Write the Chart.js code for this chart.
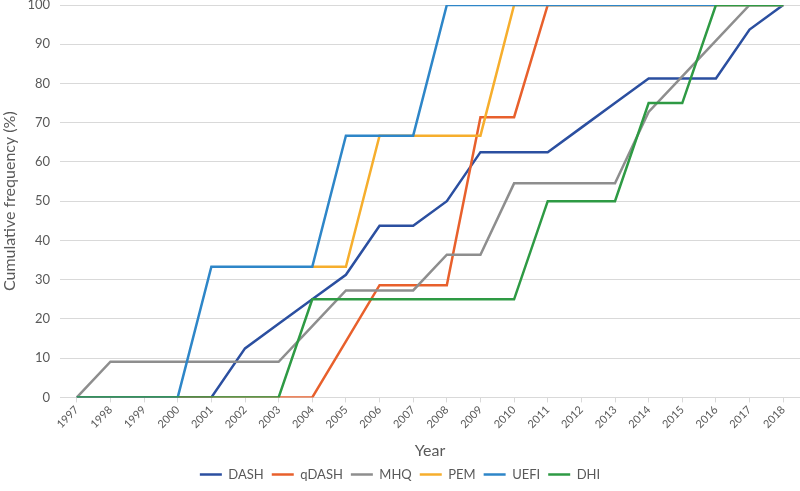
<!DOCTYPE html>
<html>
<head>
<meta charset="utf-8">
<script src="https://cdn.jsdelivr.net/npm/chart.js@4"></script>
<style>
  html, body { margin: 0; padding: 0; background: #fff; }
  #wrap { width: 800px; height: 491px; }
</style>
</head>
<body>
<div id="wrap"><canvas id="chart"></canvas></div>
<script>
const years = ['1997','1998','1999','2000','2001','2002','2003','2004','2005','2006','2007',
  '2008','2009','2010','2011','2012','2013','2014','2015','2016','2017','2018'];

const dash  = [0, 0, 0, 0, 0, 12.5, 18.75, 25, 31.25, 43.75, 43.75, 50, 62.5, 62.5, 62.5, 68.75, 75, 81.25, 81.25, 81.25, 93.75, 100];
const qdash = [0, 0, 0, 0, 0, 0, 0, 0, 14.3, 28.6, 28.6, 28.6, 71.4, 71.4, 100, 100, 100, 100, 100, 100, 100, 100];
const mhq   = [0, 9.09, 9.09, 9.09, 9.09, 9.09, 9.09, 18.18, 27.27, 27.27, 27.27, 36.36, 36.36, 54.55, 54.55, 54.55, 54.55, 72.73, 81.82, 90.91, 100, 100];
const pem   = [null, null, null, null, null, null, null, 33.3, 33.3, 66.7, 66.7, 66.7, 66.7, 100, 100, 100, 100, 100, 100, 100, 100, 100];
const uefi  = [0, 0, 0, 0, 33.3, 33.3, 33.3, 33.3, 66.7, 66.7, 66.7, 100, 100, 100, 100, 100, 100, 100, 100, 100, 100, 100];
const dhi   = [0, 0, 0, 0, 0, 0, 0, 25, 25, 25, 25, 25, 25, 25, 50, 50, 50, 75, 75, 100, 100, 100];

const yTicks = [0, 10, 20, 30, 40, 50, 60, 70, 80, 90, 100];

const textColor = '#595959';
const fontFamily = 'Lato, "Open Sans", sans-serif';

// later series are drawn on top, like the original
function line(label, data, color, order) {
  return {
    label: label,
    data: data,
    order: order,
    borderColor: color,
    backgroundColor: color,
    borderWidth: 2.5,
    pointRadius: 0,
    tension: 0,
    spanGaps: false
  };
}

new Chart(document.getElementById('chart'), {
  type: 'line',
  data: {
    labels: years,
    datasets: [
      line('DASH', dash, '#2B4FA0', 6),
      line('qDASH', qdash, '#E8602C', 5),
      line('MHQ', mhq, '#8E8E8E', 4),
      line('PEM', pem, '#F6AE2D', 3),
      line('UEFI', uefi, '#2E86C8', 2),
      line('DHI', dhi, '#2E9A44', 1)
    ]
  },
  options: {
    responsive: true,
    maintainAspectRatio: false,
    animation: false,
    layout: { padding: { left: 0, right: 0, top: 5, bottom: 0 } },
    plugins: {
      tooltip: { enabled: false },
      legend: {
        position: 'bottom',
        labels: {
          usePointStyle: true,
          pointStyle: 'line',
          pointStyleWidth: 22,
          padding: 8,
          color: textColor,
          font: { family: fontFamily, size: 13 },
          sort: (a, b) => a.datasetIndex - b.datasetIndex
        }
      }
    },
    scales: {
      x: {
        offset: true,
        grid: { display: true, drawOnChartArea: false, offset: false, tickLength: 5, color: '#d9d9d9' },
        border: { color: '#d9d9d9' },
        ticks: {
          minRotation: 45,
          maxRotation: 45,
          autoSkip: false,
          padding: 1,
          color: textColor,
          font: { family: fontFamily, size: 11 }
        },
        title: {
          display: true,
          text: 'Year',
          color: textColor,
          font: { family: fontFamily, size: 16 },
          padding: { top: 9, bottom: 0 }
        }
      },
      y: {
        min: 0,
        max: 100,
        afterFit: scale => {
          scale.width = 60;
          scale.paddingTop = 0;
          scale.paddingBottom = 0;
        },
        afterBuildTicks: scale => { scale.ticks = yTicks.map(v => ({ value: v })); },
        grid: { color: '#d9d9d9', drawTicks: false },
        border: { display: false },
        ticks: {
          padding: 10,
          color: textColor,
          font: { family: fontFamily, size: 13 }
        },
        title: {
          display: true,
          text: 'Cumulative frequency (%)',
          color: textColor,
          font: { family: fontFamily, size: 16 },
          padding: { top: 0, bottom: 2 }
        }
      }
    }
  }
});
</script>
</body>
</html>
